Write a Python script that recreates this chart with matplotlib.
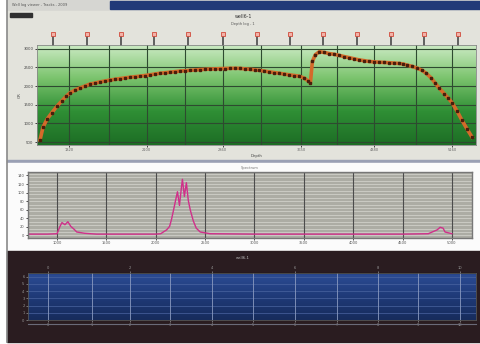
import numpy as np
import matplotlib.pyplot as plt
from matplotlib.colors import LinearSegmentedColormap
from matplotlib.patches import Rectangle

W, H = 480, 344

# --- top panel: depth profile ---
depth = [3, 6, 10, 15, 20, 25, 29, 33, 38, 43, 48, 53, 58, 63, 68, 73, 78, 83,
         88, 93, 98, 103, 108, 113, 118, 123, 128, 133, 138, 143, 148, 153,
         158, 163, 168, 173, 178, 183, 188, 193, 198, 203, 208, 213, 218, 223,
         228, 233, 238, 243, 248, 253, 258, 263, 268, 272, 274, 276, 279, 283,
         288, 293, 298, 303, 308, 313, 318, 323, 328, 333, 338, 343, 348, 353,
         358, 363, 367, 371, 376, 381, 386, 390, 395, 399, 403, 408, 412, 416,
         421, 426, 431, 436]
value = [553, 895, 1110, 1289, 1460, 1605, 1720, 1816, 1890, 1947, 2000, 2053,
         2080, 2110, 2135, 2158, 2180, 2200, 2218, 2235, 2250, 2263, 2282, 2300,
         2322, 2342, 2356, 2370, 2385, 2400, 2410, 2421, 2430, 2440, 2448, 2455,
         2460, 2466, 2470, 2474, 2476, 2474, 2462, 2450, 2436, 2421, 2400, 2380,
         2360, 2342, 2320, 2300, 2282, 2263, 2210, 2132, 2079, 2658, 2840, 2921,
         2900, 2870, 2850, 2820, 2789, 2760, 2730, 2700, 2680, 2658, 2648, 2640,
         2632, 2625, 2615, 2605, 2590, 2560, 2526, 2480, 2420, 2342, 2220,
         2080, 1947, 1800, 1680, 1553, 1330, 1079, 850, 632]
top_yticks = [500, 1000, 1500, 2000, 2500, 3000]
top_vgrid = [32, 72, 110, 148, 186, 225, 265, 301, 338, 380, 416]
top_flags = [16, 50, 84, 117, 151, 186, 220, 254, 287, 321, 355, 388, 422]

# --- middle panel: spectrum trace ---
spec_x = [706, 900, 1000, 1030, 1050, 1080, 1110, 1140, 1170, 1200, 1280, 1400,
          2000, 2050, 2110, 2140, 2160, 2180, 2200, 2220, 2240, 2260, 2270,
          2290, 2310, 2330, 2350, 2380, 2410, 2450, 2550, 3000, 3500, 4000,
          4500, 4760, 4800, 4850, 4880, 4910, 4930, 5000]
spec_y = [3, 3, 4, 21, 30, 25, 32, 21, 15, 8, 5, 3,
          3, 4, 13, 21, 38, 59, 81, 102, 70, 112, 131, 91, 123, 81, 59, 34, 17,
          8, 4, 3, 3, 3,
          3, 4, 8, 13, 19, 17, 8, 4]
mid_xticks = [1000, 1500, 2000, 2500, 3000, 3500, 4000, 4500, 5000]
mid_yticks = [0, 20, 40, 60, 80, 100, 120, 140]

# --- bottom panel ---
bot_vgrid = [48, 92, 130, 170, 212, 253, 295, 337, 378, 418, 460]
bot_yticks = [0, 1, 2, 3, 4, 5, 6]


def px_axes(fig, x0, y0, x1, y1, **kw):
    return fig.add_axes([x0 / W, 1 - y1 / H, (x1 - x0) / W, (y1 - y0) / H], **kw)


fig = plt.figure(figsize=(W / 100, H / 100), dpi=100, facecolor='white')

# window frame drawn in pixel space
bg = px_axes(fig, 0, 0, W, H)
bg.set_xlim(0, W)
bg.set_ylim(H, 0)
bg.axis('off')
bg.add_patch(Rectangle((7, 0), W - 7, 11, color='#d6d6d2'))
bg.add_patch(Rectangle((110, 1), W - 110, 8, color='#213a78'))
bg.text(12, 5, 'Well log viewer - Tracks - 2009', fontsize=2.6, color='#555',
        va='center')
bg.add_patch(Rectangle((7, 11), W - 7, 150, color='#e3e3dc'))
bg.add_patch(Rectangle((10, 13), 22, 4, color='#303030'))
bg.add_patch(Rectangle((7, 160), W - 7, 3, color='#9aa0b4'))
bg.add_patch(Rectangle((7, 163), W - 7, 88, color='#fbfbfb'))
bg.add_patch(Rectangle((7, 251), W - 7, 91, color='#2a1c20'))
bg.plot([7, 7], [0, 342], color='#8a8a8a', lw=1.2)
bg.text(243, 17, 'well6-1', fontsize=3.4, ha='center', va='center', color='#333')
bg.text(243, 24, 'Depth log - 1', fontsize=2.6, ha='center', va='center',
        color='#555')
bg.text(243, 258, 'well6-1', fontsize=2.8, ha='center', va='center',
        color='#bbb')

# top chart
ax1 = px_axes(fig, 37, 45, 476, 145)
green = LinearSegmentedColormap.from_list('g', ['#cdebc5', '#7cc46e', '#2f8f35', '#1d6e25'])
grad = np.linspace(0, 1, 200).reshape(-1, 1)
ax1.imshow(grad, aspect='auto', cmap=green, extent=[0, 440, 420, 3100],
           origin='upper', zorder=0)
ax1.set_xlim(0, 440)
ax1.set_ylim(420, 3100)
for v in top_vgrid:
    ax1.axvline(v, color='#2e4a30', lw=0.8, zorder=1)
for t in top_yticks:
    ax1.axhline(t, color='#2e4a30', lw=0.8, zorder=1)
ax1.plot(depth, value, color='#d46a2a', lw=2.6, zorder=2)
ax1.plot(depth, value, ls='none', marker='s', ms=1.7, color='#4a1e0c', zorder=3)
ax1.set_yticks(top_yticks)
ax1.set_yticklabels([str(t) for t in top_yticks], fontsize=2.8, color='#444')
ax1.set_xticks(top_vgrid[::2])
ax1.set_xticklabels(['%d' % (1000 + 10 * v) for v in top_vgrid[::2]],
                    fontsize=2.6, color='#666')
ax1.tick_params(length=1.5, width=0.5, pad=1)
ax1.set_xlabel('Depth', fontsize=2.8, labelpad=1, color='#444')
ax1.set_ylabel('GR', fontsize=2.8, labelpad=1, color='#444')
for s in ax1.spines.values():
    s.set_color('#888')
    s.set_linewidth(0.6)
for f in top_flags:
    ax1.plot([f, f], [1.0, 1.11], transform=ax1.get_xaxis_transform(),
             color='#4a4a4a', lw=1.2, clip_on=False)
    ax1.plot(f, 1.11, marker='s', ms=3.5, mfc='#f2b2a8', mec='#d04a3a', mew=0.6,
             transform=ax1.get_xaxis_transform(), clip_on=False)

# middle chart
ax2 = px_axes(fig, 28, 172, 472, 238)
ax2.set_facecolor('#acaca4')
ax2.set_xlim(706, 5203)
ax2.set_ylim(-6, 148)
for t in np.arange(0, 148, 8):
    ax2.axhline(t, color='#cfcfc8', lw=0.6, zorder=1)
for t in mid_xticks:
    ax2.axvline(t, color='#4c4c4c', lw=0.8, zorder=1)
ax2.plot(spec_x, spec_y, color='#d0308a', lw=1.0, zorder=2)
ax2.set_xticks(mid_xticks)
ax2.set_xticklabels([str(t) for t in mid_xticks], fontsize=2.6, color='#555')
ax2.set_yticks(mid_yticks)
ax2.set_yticklabels([str(t) for t in mid_yticks], fontsize=2.6, color='#555')
ax2.tick_params(length=1.5, width=0.5, pad=1)
for s in ax2.spines.values():
    s.set_color('#777')
    s.set_linewidth(1.0)
ax2.text(0.5, 1.04, 'Spectrum', transform=ax2.transAxes, fontsize=2.6,
         ha='center', color='#777')

# bottom chart
ax3 = px_axes(fig, 28, 273, 476, 320)
blue = LinearSegmentedColormap.from_list('b', ['#2c4c94', '#1f3a78', '#172c5c'])
ax3.imshow(grad, aspect='auto', cmap=blue, extent=[28, 476, 0, 6.5],
           origin='upper', zorder=0)
ax3.set_xlim(28, 476)
ax3.set_ylim(0, 6.5)
for t in bot_yticks:
    ax3.axhline(t, color='#4a64a0', lw=0.5, zorder=1)
for v in bot_vgrid:
    ax3.axvline(v, color='#8a9ac0', lw=0.6, zorder=1)
ax3.set_xticks(bot_vgrid)
ax3.set_xticklabels([str(i) for i in range(len(bot_vgrid))], fontsize=2.6,
                    color='#aaa')
ax3.set_yticks(bot_yticks)
ax3.set_yticklabels([str(t) for t in bot_yticks], fontsize=2.6, color='#aaa')
ax3.tick_params(length=1.5, width=0.5, pad=1, colors='#999')
for s in ax3.spines.values():
    s.set_color('#555')
    s.set_linewidth(0.6)
sec = ax3.secondary_xaxis('top')
sec.set_xticks(bot_vgrid[::2])
sec.set_xticklabels(['%d' % (i * 2) for i in range(len(bot_vgrid[::2]))],
                    fontsize=2.6, color='#aaa')
sec.tick_params(length=1.5, width=0.5, pad=1, colors='#999')
ax3.axhline(-0.6, color='#6a6a78', lw=0.8, clip_on=False)

fig.savefig('out.png', dpi=100, facecolor='white')
